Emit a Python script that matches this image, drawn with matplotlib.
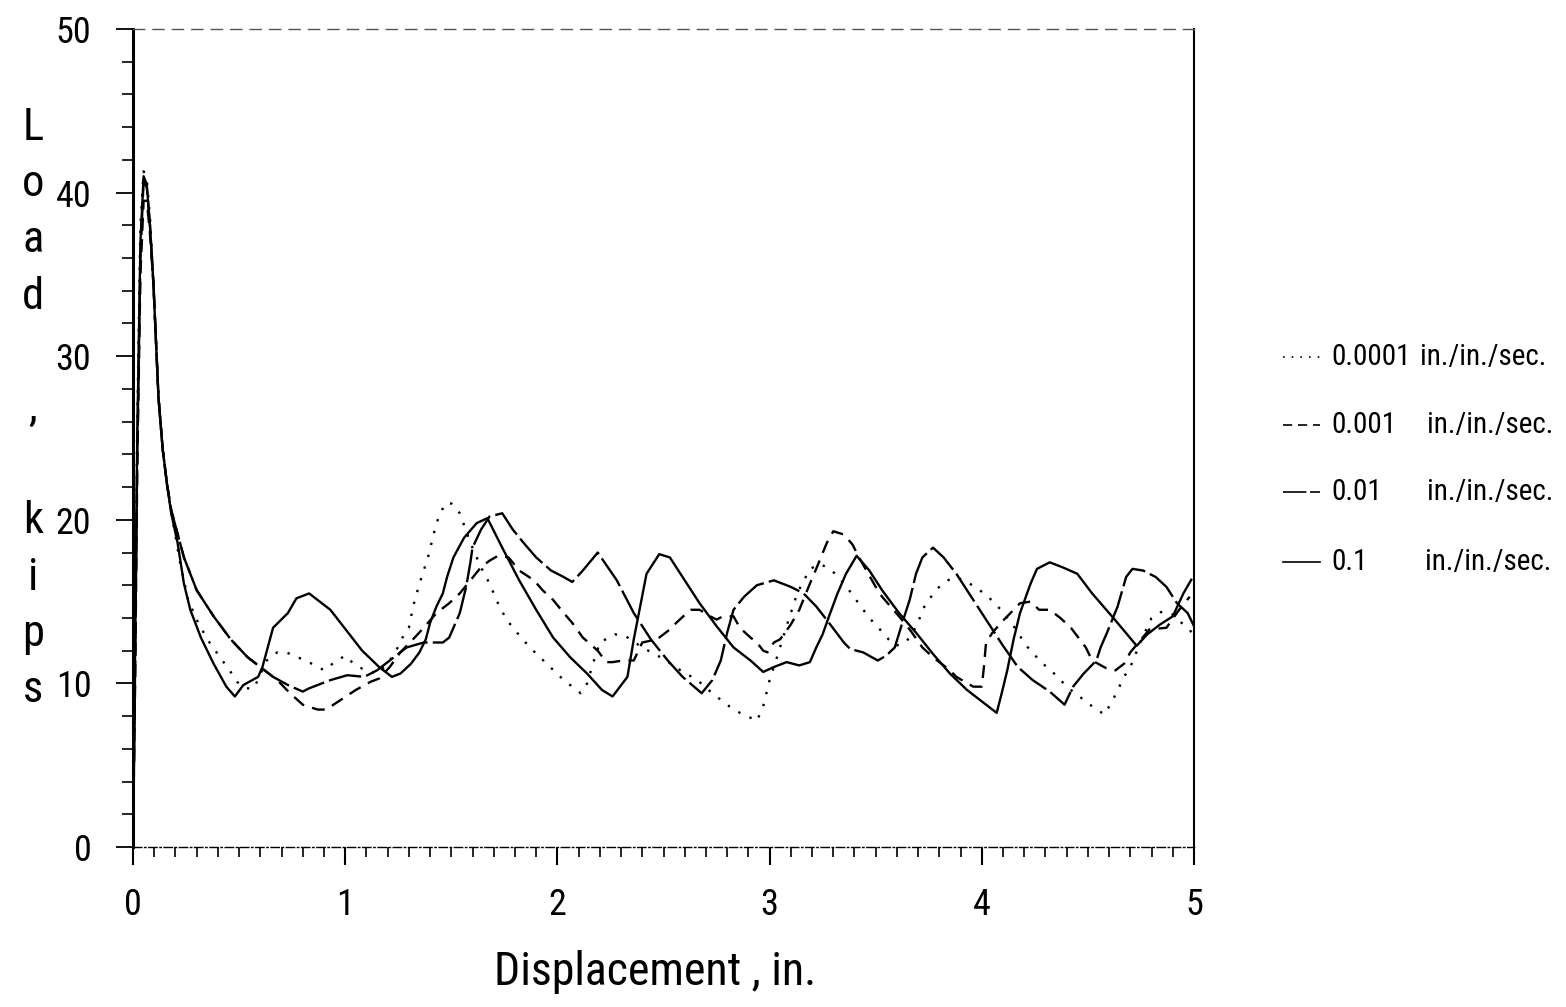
import matplotlib
matplotlib.use("Agg")
import matplotlib.pyplot as plt
from matplotlib.lines import Line2D
from matplotlib import font_manager
from matplotlib.ticker import MultipleLocator

# ---------------- data ----------------
rate_labels = ["0.0001", "0.001", "0.01", "0.1"]
rate_unit = "in./in./sec."

x_0001 = [0, 0.01, 0.02, 0.035, 0.05, 0.065, 0.08, 0.096, 0.12, 0.14, 0.16, 0.18, 0.22, 0.26,
          0.30, 0.35, 0.41, 0.46, 0.49, 0.53, 0.57, 0.63, 0.68, 0.72, 0.76, 0.81, 0.86, 0.90,
          0.95, 1.00, 1.04, 1.08, 1.15, 1.20, 1.24, 1.27, 1.30, 1.32, 1.35, 1.39, 1.43, 1.47,
          1.50, 1.54, 1.59, 1.64, 1.68, 1.72, 1.76, 1.81, 1.87, 1.95, 2.03, 2.11, 2.14, 2.17,
          2.20, 2.27, 2.32, 2.40, 2.50, 2.58, 2.66, 2.73, 2.81, 2.86, 2.91, 2.94, 2.97, 3.00,
          3.03, 3.08, 3.13, 3.19, 3.24, 3.28, 3.32, 3.38, 3.43, 3.47, 3.52, 3.56, 3.59, 3.63,
          3.66, 3.70, 3.72, 3.75, 3.79, 3.84, 3.88, 3.93, 3.98, 4.03, 4.09, 4.15, 4.21, 4.28,
          4.35, 4.40, 4.46, 4.50, 4.54, 4.58, 4.60, 4.63, 4.67, 4.70, 4.75, 4.80, 4.85, 4.90,
          4.95, 5.0]
y_0001 = [0, 12, 26, 38, 41.3, 40.8, 38.5, 34.5, 27.5, 24.3, 22.2, 20.5, 17.5, 15.1,
          13.9, 12.7, 11.6, 10.7, 10.1, 9.7, 9.7, 11.4, 11.9, 11.9, 11.7, 11.4, 11.1, 10.8,
          11.3, 11.7, 11.2, 10.9, 10.6, 11.2, 12.0, 12.8, 13.4, 14.7, 16.1, 17.7, 19.8, 21.0,
          21.0, 20.4, 18.6, 17.1, 16.1, 14.9, 13.9, 13.1, 12.2, 11.2, 10.2, 9.4, 10.0, 11.3,
          12.5, 13.0, 12.9, 12.2, 11.5, 10.8, 10.2, 9.4, 8.6, 8.2, 7.9, 7.7, 8.6, 10.2,
          11.4, 13.5, 15.5, 17.0, 17.3, 17.0, 16.6, 15.6, 14.7, 14.0, 13.3, 12.7, 12.3, 12.4,
          12.8, 13.7, 14.5, 15.1, 15.8, 16.3, 16.5, 16.2, 15.8, 15.3, 14.5, 13.5, 12.3, 11.3,
          10.5, 9.8, 9.2, 8.8, 8.4, 8.1, 8.6, 9.3, 10.4, 11.0, 12.6, 14.0, 14.4, 14.2,
          13.6, 13.0]

x_001 = [0, 0.01, 0.02, 0.035, 0.05, 0.065, 0.08, 0.096, 0.12, 0.14, 0.16, 0.18, 0.24, 0.30,
         0.38, 0.46, 0.54, 0.61, 0.68, 0.74, 0.80, 0.87, 0.91, 0.98, 1.05, 1.12, 1.16, 1.21,
         1.26, 1.32, 1.37, 1.43, 1.49, 1.54, 1.59, 1.64, 1.68, 1.72, 1.77, 1.82, 1.89, 1.93,
         1.98, 2.03, 2.07, 2.12, 2.19, 2.23, 2.26, 2.31, 2.36, 2.40, 2.47, 2.53, 2.56, 2.61,
         2.63, 2.67, 2.72, 2.75, 2.78, 2.83, 2.86, 2.91, 2.94, 2.97, 2.99, 3.02, 3.05, 3.10,
         3.14, 3.19, 3.21, 3.27, 3.30, 3.35, 3.39, 3.43, 3.50, 3.53, 3.61, 3.66, 3.72, 3.77,
         3.85, 3.88, 3.96, 4.00, 4.01, 4.02, 4.05, 4.09, 4.15, 4.18, 4.23, 4.27, 4.32, 4.37,
         4.42, 4.49, 4.52, 4.59, 4.63, 4.67, 4.70, 4.79, 4.87, 4.93, 4.98]
y_001 = [0, 10, 23, 35, 39.5, 39.5, 37.5, 34.5, 27.5, 24.3, 22.2, 20.6, 17.7, 15.7,
         14.1, 12.7, 11.6, 10.9, 10.2, 9.4, 8.7, 8.4, 8.4, 9.0, 9.6, 10.1, 10.3, 11.0,
         11.9, 12.7, 13.4, 14.3, 14.9, 15.5, 16.3, 17.1, 17.5, 17.8, 17.7, 16.9, 16.3, 15.7,
         15.1, 14.3, 13.7, 12.8, 12.0, 11.3, 11.3, 11.4, 11.4, 12.5, 12.7, 13.3, 13.7, 14.3,
         14.5, 14.5, 14.1, 13.9, 14.1, 14.1, 13.4, 12.8, 12.5, 12.0, 11.9, 12.5, 12.7, 13.6,
         14.5, 16.1, 16.7, 18.6, 19.3, 19.1, 18.5, 17.5, 15.9, 15.3, 14.1, 13.3, 12.2, 11.6,
         10.8, 10.4, 9.8, 9.8, 11.0, 12.5, 13.1, 13.7, 14.5, 14.9, 15.0, 14.5, 14.5, 14.0,
         13.4, 12.2, 11.4, 10.9, 10.8, 11.2, 11.9, 13.3, 13.4, 14.5, 15.3]

x_01 = [0, 0.01, 0.02, 0.035, 0.05, 0.065, 0.08, 0.096, 0.12, 0.14, 0.16, 0.18, 0.24, 0.30,
        0.38, 0.46, 0.54, 0.61, 0.66, 0.73, 0.80, 0.83, 0.93, 1.01, 1.09, 1.15, 1.21, 1.29,
        1.37, 1.46, 1.49, 1.54, 1.57, 1.59, 1.60, 1.64, 1.68, 1.74, 1.79, 1.84, 1.90, 1.97,
        2.03, 2.07, 2.12, 2.19, 2.28, 2.36, 2.44, 2.52, 2.59, 2.68, 2.73, 2.77, 2.80, 2.83,
        2.88, 2.94, 3.02, 3.10, 3.16, 3.22, 3.28, 3.35, 3.38, 3.44, 3.51, 3.55, 3.59, 3.63,
        3.66, 3.69, 3.72, 3.77, 3.82, 3.88, 3.93, 3.99, 4.05, 4.10, 4.17, 4.24, 4.32, 4.39,
        4.43, 4.48, 4.54, 4.56, 4.59, 4.64, 4.68, 4.71, 4.76, 4.82, 4.87, 4.92, 4.97, 5.0]
y_01 = [0, 11, 24, 36, 40.8, 40.3, 38, 34.5, 27.5, 24.3, 22.2, 20.6, 17.7, 15.7,
        14.1, 12.7, 11.6, 10.9, 10.4, 9.9, 9.5, 9.7, 10.2, 10.5, 10.4, 10.8, 11.4, 12.2,
        12.5, 12.5, 12.8, 14.3, 15.9, 17.4, 18.3, 19.4, 20.2, 20.4, 19.4, 18.6, 17.7, 16.9,
        16.5, 16.2, 16.9, 18.0, 16.3, 14.3, 12.7, 11.4, 10.4, 9.4, 10.2, 11.4, 13.1, 14.5,
        15.3, 16.0, 16.3, 15.9, 15.5, 14.7, 13.7, 12.5, 12.1, 11.9, 11.4, 11.7, 12.2, 13.9,
        15.1, 16.7, 17.7, 18.3, 17.7, 16.7, 15.7, 14.5, 13.3, 12.3, 11.0, 10.2, 9.5, 8.7,
        9.8, 10.6, 11.4, 12.2, 13.1, 14.7, 16.5, 17.0, 16.9, 16.5, 15.9, 14.9, 14.3, 13.5]

x_1 = [0, 0.01, 0.02, 0.035, 0.05, 0.065, 0.08, 0.096, 0.12, 0.14, 0.16, 0.18, 0.21, 0.24,
       0.27, 0.32, 0.38, 0.44, 0.48, 0.52, 0.59, 0.61, 0.66, 0.73, 0.77, 0.83, 0.93, 1.08,
       1.16, 1.22, 1.26, 1.31, 1.35, 1.38, 1.40, 1.43, 1.46, 1.48, 1.51, 1.56, 1.62, 1.67,
       1.74, 1.82, 1.90, 1.98, 2.06, 2.14, 2.21, 2.26, 2.33, 2.36, 2.39, 2.42, 2.48, 2.53,
       2.59, 2.67, 2.75, 2.83, 2.91, 2.97, 3.02, 3.08, 3.14, 3.19, 3.22, 3.25, 3.28, 3.32,
       3.36, 3.41, 3.47, 3.53, 3.61, 3.69, 3.77, 3.85, 3.93, 4.01, 4.07, 4.09, 4.12, 4.15,
       4.18, 4.23, 4.26, 4.32, 4.38, 4.45, 4.52, 4.62, 4.73, 4.78, 4.84, 4.90, 4.95, 4.99]
y_1 = [0, 12, 25, 37, 41.0, 40.5, 38, 34.5, 27.5, 24.3, 22.2, 20.4, 18.6, 16.1,
       14.5, 12.8, 11.2, 9.8, 9.2, 9.9, 10.4, 11.0, 13.4, 14.3, 15.2, 15.5, 14.5, 12.0,
       11.0, 10.4, 10.6, 11.2, 11.9, 12.7, 13.7, 14.7, 15.5, 16.5, 17.7, 18.9, 19.8, 20.1,
       18.3, 16.3, 14.5, 12.8, 11.6, 10.6, 9.6, 9.2, 10.4, 12.7, 14.7, 16.7, 17.9, 17.7,
       16.5, 14.9, 13.5, 12.2, 11.4, 10.7, 11.0, 11.3, 11.1, 11.3, 12.2, 13.0, 14.1, 15.5,
       16.7, 17.8, 16.9, 15.7, 14.3, 13.1, 11.8, 10.6, 9.6, 8.8, 8.2, 9.2, 10.8, 12.7,
       14.3, 16.1, 17.0, 17.4, 17.1, 16.7, 15.5, 14.0, 12.3, 13.0, 13.6, 14.1, 15.5, 16.4]

series_x = [x_0001, x_001, x_01, x_1]
series_y = [y_0001, y_001, y_01, y_1]

# ---------------- style ----------------
def pick_font(candidates):
    names = {f.name for f in font_manager.fontManager.ttflist}
    for c in candidates:
        if c in names:
            return c
    return "DejaVu Sans"

FONT = pick_font(["Liberation Sans Narrow", "DejaVu Sans Condensed", "Roboto Condensed",
                  "Open Sans Condensed", "Liberation Sans"])
plt.rcParams["font.family"] = [FONT, "DejaVu Sans"]

styles = [
    dict(linestyle=(0, (1.0, 4.2)), linewidth=1.7),
    dict(linestyle=(0, (5.5, 3.5)), linewidth=1.7),
    dict(linestyle=(0, (14, 2.2)), linewidth=1.7),
    dict(linestyle="-", linewidth=1.7),
]

W, H = 1566, 1007
fig = plt.figure(figsize=(W / 100, H / 100), dpi=100)
left, right, bottom, top = 133, 1194, 847, 29
ax = fig.add_axes([left / W, 1 - bottom / H, (right - left) / W, (bottom - top) / H])

for xs, ys, st in zip(series_x, series_y, styles):
    ax.plot(xs, ys, color="black", solid_capstyle="butt", dash_capstyle="butt",
            solid_joinstyle="round", **st)

ax.set_xlim(0, 5)
ax.set_ylim(0, 50)

ax.xaxis.set_major_locator(MultipleLocator(1))
ax.xaxis.set_minor_locator(MultipleLocator(0.1))
ax.yaxis.set_major_locator(MultipleLocator(10))
ax.yaxis.set_minor_locator(MultipleLocator(2))
ax.tick_params(axis="x", which="major", direction="out", length=13, width=1.5, pad=16,
               labelsize=26, colors="black")
ax.tick_params(axis="x", which="minor", direction="out", length=7, width=1.2)
ax.tick_params(axis="y", which="major", direction="out", length=12, width=1.3, pad=18,
               labelsize=26)
ax.tick_params(axis="y", which="minor", direction="out", length=8, width=1.2)

ax.spines["left"].set_linewidth(2.2)
ax.spines["right"].set_linewidth(1.5)
ax.spines["bottom"].set_linewidth(1.0)
ax.spines["bottom"].set_linestyle((0, (6, 2, 1, 2)))
ax.spines["top"].set_linewidth(1.0)
ax.spines["top"].set_linestyle((0, (8, 6)))
ax.spines["top"].set_color("#555555")

# x axis title
fig.text(655 / W, 1 - 972 / H, "Displacement , in.", ha="center", va="center", fontsize=33)

# y axis title, one character per line
ylabel = "Load , kips"
for i, ch in enumerate(ylabel):
    if ch != " ":
        fig.text(33 / W, 1 - (128 + i * 56.2) / H, ch, ha="center", va="center", fontsize=32)

# legend
row_y = [357, 425, 492, 562]
unit_x = [1420, 1427, 1427, 1425]
for lab, st, ry, ux in zip(rate_labels, styles, row_y, unit_x):
    fig.add_artist(Line2D([1283 / W, 1320 / W], [1 - ry / H, 1 - ry / H],
                          transform=fig.transFigure, color="black",
                          linestyle=st["linestyle"], linewidth=1.2))
    fig.text(1331 / W, 1 - ry / H, lab, ha="left", va="center", fontsize=21)
    fig.text(ux / W, 1 - ry / H, rate_unit, ha="left", va="center", fontsize=21)

fig.savefig("out.png", dpi=100, facecolor="white")
